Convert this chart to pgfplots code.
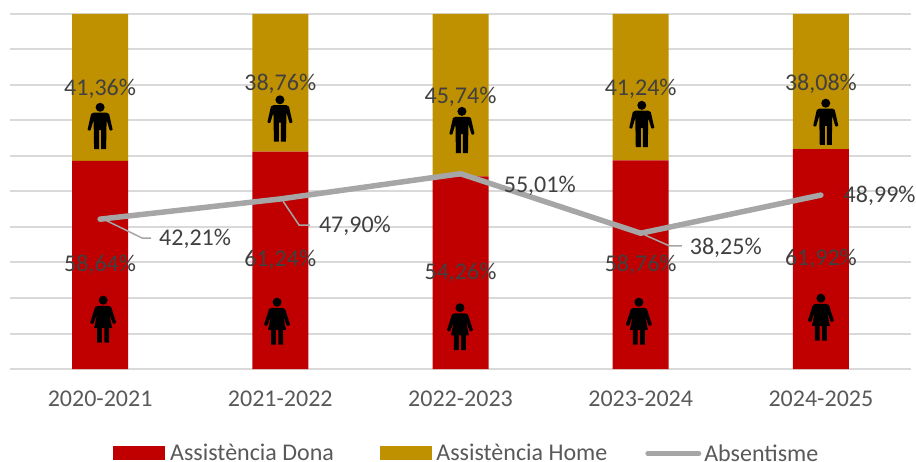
\documentclass[border=0pt]{standalone}
\usepackage{pgfplots}
\pgfplotsset{compat=1.18}
\usepackage{fontspec}
\setmainfont{Carlito}
\definecolor{cDona}{HTML}{C00000}
\definecolor{cHome}{HTML}{BF9000}
\definecolor{cGrid}{HTML}{D9D9D9}
\definecolor{cLine}{HTML}{A6A6A6}
\definecolor{cLab}{HTML}{404040}
\definecolor{cTick}{HTML}{595959}
\def\pM#1#2{\pgfpathmoveto{\pgfqpoint{#1pt}{#2pt}}}
\def\pL#1#2{\pgfpathlineto{\pgfqpoint{#1pt}{#2pt}}}
\pgfdeclareplotmark{man}{%
  \pgfpathcircle{\pgfqpoint{0pt}{18.7pt}}{4.5pt}%
  \pM{-6.5}{13.3}\pL{-9}{12}\pL{-12.5}{-3.5}\pL{-11}{-4.7}\pL{-9.5}{-4}\pL{-6.5}{6}\pL{-6}{-23}\pL{-1}{-23}\pL{-1}{-4}%
  \pL{1}{-4}\pL{1}{-23}\pL{6}{-23}\pL{6.5}{6}\pL{9.5}{-4}\pL{11}{-4.7}\pL{12.5}{-3.5}\pL{9}{12}\pL{6.5}{13.3}\pgfpathclose
  \pgfusepathqfill}
\pgfdeclareplotmark{woman}{%
  \pgfpathcircle{\pgfqpoint{0pt}{19.3pt}}{4.5pt}%
  \pM{-5}{13.7}\pL{-8}{12.5}\pL{-13}{-3}\pL{-11}{-4.5}\pL{-9.5}{-3.5}\pL{-6}{6}\pL{-9}{-8.3}\pL{-6}{-8.3}\pL{-6}{-23}\pL{-1.2}{-23}\pL{-1.2}{-8.3}%
  \pL{1.2}{-8.3}\pL{1.2}{-23}\pL{6}{-23}\pL{6}{-8.3}\pL{9}{-8.3}\pL{6}{6}\pL{9.5}{-3.5}\pL{11}{-4.5}\pL{13}{-3}\pL{8}{12.5}\pL{5}{13.7}\pgfpathclose
  \pgfusepathqfill}
\pgfplotsset{common/.style={
  scale only axis, width=901pt, height=355pt, at={(10pt,92pt)}, anchor=south west,
  xmin=-0.5, xmax=4.5, ymin=0, ymax=100, clip=false}}
\begin{document}
\begin{tikzpicture}
\useasboundingbox (0,0) rectangle (916pt,461pt);
\begin{axis}[common,
  ybar stacked, bar width=56pt,
  axis line style={draw=none}, major tick length=0pt,
  ytick={0,10,...,100}, yticklabels={},
  ymajorgrids, grid style={cGrid,line width=2pt},
  xtick={0,1,2,3,4},
  xticklabels={2020-2021,2021-2022,2022-2023,2023-2024,2024-2025},
  xticklabel style={font=\fontsize{24}{26}\selectfont,text=cTick,yshift=-18pt},
  legend style={at={(0.1143,-0.238)},anchor=west,draw=none,fill=none,inner sep=0pt,
    font=\fontsize{24}{25}\selectfont,text=cTick,legend columns=3,
    /tikz/column 2/.style={column sep=46pt},
    /tikz/column 4/.style={column sep=38pt},
    nodes={inner sep=0pt,anchor=west}},
  legend cell align=left,
]
\addplot[fill=cDona,draw=none,legend image code/.code={\fill[cDona] (0,-7pt) rectangle (52pt,7pt);}] coordinates {(0,58.64)(1,61.24)(2,54.26)(3,58.76)(4,61.92)};
\addlegendentry{\hspace{5pt}\vphantom{è}Assistència Dona}
\addplot[fill=cHome,draw=none,legend image code/.code={\fill[cHome] (0,-7pt) rectangle (52pt,7pt);}] coordinates {(0,41.36)(1,38.76)(2,45.74)(3,41.24)(4,38.08)};
\addlegendentry{\hspace{4.5pt}\vphantom{è}Assistència Home}
\addlegendimage{legend image code/.code={\draw[cLine,line width=5pt,line cap=round] (2pt,0) -- (53pt,0);}}
\addlegendentry{\hspace{3pt}\vphantom{è}Absentisme}
\end{axis}
\begin{axis}[common, hide axis]
\addplot[cLine,line width=1.5pt,forget plot] coordinates {(0.028,41.97)(0.233,36.9)(0.283,36.9)};
\addplot[cLine,line width=1.5pt,forget plot] coordinates {(1.015,47.3)(1.104,40.56)(1.165,40.56)};
\addplot[cLine,line width=1.5pt,forget plot] coordinates {(3.023,37.75)(3.161,34.65)(3.228,34.65)};
\addplot[cLine,line width=5.5pt,line cap=round,line join=round,mark=none] coordinates {(0,42.21)(1,47.90)(2,55.01)(3,38.25)(4,48.99)};
\addplot[only marks,mark=man,black] coordinates {(0,68.45)(0.998,70.56)(2.008,67.3)(3.006,69.0)(4.027,69.6)};
\addplot[only marks,mark=woman,black] coordinates {(0.017,13.94)(0.982,13.38)(1.997,11.83)(2.99,13.38)(4,14.5)};
\begin{scope}[every node/.style={font=\fontsize{24}{26}\selectfont,text=cLab,inner sep=0pt}]
\node at (axis cs:0,78.87) {41,36\%};
\node at (axis cs:1,80.28) {38,76\%};
\node at (axis cs:2,76.6) {45,74\%};
\node at (axis cs:3,78.87) {41,24\%};
\node at (axis cs:4,80.28) {38,08\%};
\node at (axis cs:0,29.3) {58,64\%};
\node at (axis cs:1,30.7) {61,24\%};
\node at (axis cs:2,27.0) {54,26\%};
\node at (axis cs:3,29.3) {58,76\%};
\node at (axis cs:4,31.0) {61,92\%};
\node at (axis cs:0.527,36.6) {42,21\%};
\node at (axis cs:1.414,40.3) {47,90\%};
\node at (axis cs:2.44,51.5) {55,01\%};
\node at (axis cs:3.472,34.1) {38,25\%};
\node at (axis cs:4.326,48.7) {48,99\%};
\end{scope}
\end{axis}
\end{tikzpicture}
\end{document}
